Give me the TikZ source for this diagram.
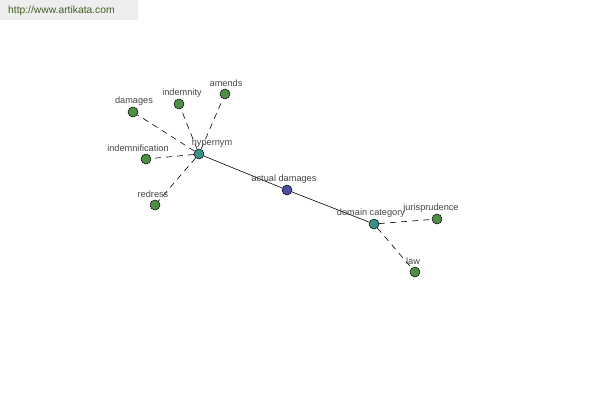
\documentclass[tikz,border=0pt]{standalone}
\usepackage{fontspec}
\setmainfont{Liberation Sans}
\definecolor{leaf}{HTML}{4F8F45}
\definecolor{hub}{HTML}{3A9088}
\definecolor{core}{HTML}{4A4FA0}
\definecolor{lbl}{HTML}{444444}
\definecolor{hdr}{HTML}{EEEEEE}
\definecolor{hdrtext}{HTML}{3F5F22}
\begin{document}
\begin{tikzpicture}[x=1pt,y=-1pt,
  dot/.style={circle,draw=black,line width=0.5pt,minimum size=10pt,inner sep=0pt},
  leafdot/.style={dot,fill=leaf},
  hubdot/.style={dot,fill=hub},
  coredot/.style={dot,fill=core},
  lab/.style={font=\fontsize{9.2}{10}\selectfont,text=lbl,inner sep=0pt},
  rel/.style={draw=black,line width=0.6pt},
  dashrel/.style={draw=black,line width=0.6pt,dash pattern=on 6pt off 5pt}]
\useasboundingbox (0,0) rectangle (600,400);
\fill[hdr] (0,0) rectangle (138,20);
\node[font=\fontsize{10.3}{11}\selectfont,text=hdrtext,anchor=west,inner sep=0pt] (hdr) at (8,11) {http://www.artikata.com};

\node[hubdot] (hyp) at (199,154) {};
\node[coredot] (act) at (287,190) {};
\node[hubdot] (dom) at (374,224) {};
\node[leafdot] (jur) at (437,219) {};
\node[leafdot] (law) at (415,272) {};
\node[leafdot] (dam) at (133,112) {};
\node[leafdot] (ind) at (179,104) {};
\node[leafdot] (ame) at (225,94) {};
\node[leafdot] (idf) at (146,159) {};
\node[leafdot] (red) at (155,205) {};

\draw[rel] (hyp) -- (act);
\draw[rel] (act) -- (dom);
\draw[dashrel] (hyp) -- (dam);
\draw[dashrel] (hyp) -- (ind);
\draw[dashrel] (hyp) -- (ame);
\draw[dashrel] (hyp) -- (idf);
\draw[dashrel] (hyp) -- (red);
\draw[dashrel] (dom) -- (jur);
\draw[dashrel] (dom) -- (law);

\node[lab] (lhyp) at (212,143) {hypernym};
\node[lab] (lact) at (284,179) {actual damages};
\node[lab] (ldom) at (371,213) {domain category};
\node[lab] (ljur) at (431,208) {jurisprudence};
\node[lab] (llaw) at (413,261) {law};
\node[lab] (ldam) at (134,101) {damages};
\node[lab] (lind) at (182,93) {indemnity};
\node[lab] (lame) at (226,83) {amends};
\node[lab] (lidf) at (138,148) {indemnification};
\node[lab] (lred) at (153,194) {redress};
\end{tikzpicture}
\end{document}
